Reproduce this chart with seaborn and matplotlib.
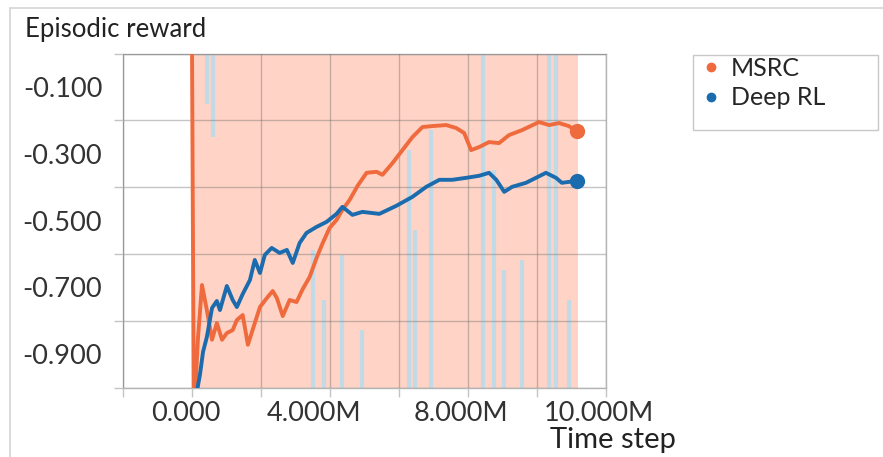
import matplotlib
matplotlib.use("Agg")
import matplotlib.pyplot as plt
from matplotlib.lines import Line2D
from matplotlib.patches import Rectangle
import seaborn as sns
import pandas as pd
import numpy as np

# smoothed curves (x in millions of time steps)
msrc_x = [0.0, 0.05, 0.09, 0.17, 0.29, 0.43, 0.58, 0.72, 0.87, 1.01, 1.18, 1.30, 1.47,
          1.62, 1.82, 1.97, 2.17, 2.34, 2.46, 2.63, 2.83, 3.03, 3.21, 3.41, 3.61, 3.79,
          3.99, 4.19, 4.36, 4.57, 4.80, 5.06, 5.35, 5.52, 5.81, 6.10, 6.39, 6.68, 6.97,
          7.37, 7.66, 7.89, 8.09, 8.32, 8.61, 8.90, 9.19, 9.57, 10.06, 10.35, 10.64,
          10.92, 11.16]
msrc_y = [0.02, -1.02, -1.02, -0.857, -0.693, -0.768, -0.857, -0.807, -0.857, -0.837,
          -0.828, -0.798, -0.783, -0.872, -0.807, -0.759, -0.732, -0.711, -0.732, -0.786,
          -0.738, -0.744, -0.705, -0.669, -0.612, -0.567, -0.522, -0.498, -0.468, -0.438,
          -0.396, -0.357, -0.354, -0.363, -0.328, -0.289, -0.250, -0.220, -0.217, -0.214,
          -0.223, -0.238, -0.289, -0.280, -0.265, -0.268, -0.244, -0.229, -0.205, -0.214,
          -0.208, -0.217, -0.232]

deeprl_x = [0.12, 0.14, 0.23, 0.32, 0.43, 0.58, 0.72, 0.81, 1.01, 1.18, 1.30, 1.47, 1.68,
            1.82, 1.97, 2.11, 2.31, 2.54, 2.75, 2.92, 3.12, 3.32, 3.61, 3.90, 4.19, 4.36,
            4.65, 4.94, 5.43, 5.92, 6.39, 6.79, 7.17, 7.54, 7.95, 8.32, 8.61, 8.82, 9.05,
            9.28, 9.68, 9.97, 10.26, 10.55, 10.72, 11.16]
deeprl_y = [-1.05, -1.013, -0.962, -0.893, -0.849, -0.762, -0.741, -0.768, -0.696, -0.738,
            -0.759, -0.720, -0.678, -0.618, -0.657, -0.603, -0.582, -0.597, -0.588, -0.627,
            -0.567, -0.537, -0.519, -0.504, -0.480, -0.459, -0.483, -0.474, -0.480, -0.456,
            -0.429, -0.399, -0.378, -0.378, -0.372, -0.366, -0.357, -0.378, -0.414, -0.399,
            -0.387, -0.372, -0.357, -0.372, -0.387, -0.381]

# extent of the faint raw MSRC data (fills the whole height)
raw_start = 0.0
raw_end = 11.2

# faint raw Deep RL streaks: x, lower y, upper y
streak_x = [0.43, 0.60, 3.50, 3.84, 4.36, 4.94, 6.30, 6.47, 6.94, 8.44, 8.76, 9.05,
            9.57, 10.35, 10.55, 10.92]
streak_lo = [-0.15, -0.25, -1.0, -1.0, -1.0, -1.0, -1.0, -1.0, -1.0, -1.0, -1.0, -1.0,
             -1.0, -1.0, -1.0, -1.0]
streak_hi = [0.0, 0.0, -0.588, -0.738, -0.603, -0.828, -0.289, -0.528, -0.229, 0.0,
             -0.348, -0.648, -0.618, 0.0, 0.0, -0.738]

series_names = ["MSRC", "Deep RL"]
x_tick_labels = ["0.000", "4.000M", "8.000M", "10.000M"]
y_tick_labels = ["-0.100", "-0.300", "-0.500", "-0.700", "-0.900"]

ORANGE = "#ef6a3c"
BLUE = "#1b6cae"

sns.set_theme(style="white")
plt.rcParams["font.family"] = ["Lato", "DejaVu Sans"]

df = pd.concat([
    pd.DataFrame({"step": msrc_x, "reward": msrc_y, "run": series_names[0]}),
    pd.DataFrame({"step": deeprl_x, "reward": deeprl_y, "run": series_names[1]}),
])

fig = plt.figure(figsize=(8.83, 4.57), dpi=100)
ax = fig.add_axes([123 / 883, 1 - 387.5 / 457, (606 - 123) / 883, (387.5 - 53.6) / 457])

# raw data shading
ax.axvspan(raw_start, raw_end, color="#ff7043", alpha=0.3, lw=0, zorder=0.1)
ax.vlines(streak_x, streak_lo, streak_hi, color="#b3dcef", lw=3, alpha=0.8, zorder=0.2)

sns.lineplot(data=df, x="step", y="reward", hue="run", palette=[ORANGE, BLUE],
             estimator=None, sort=False, lw=2.8, legend=False, ax=ax, zorder=3)
ax.plot(msrc_x[-1], msrc_y[-1], "o", color=ORANGE, ms=10, zorder=4)
ax.plot(deeprl_x[-1], deeprl_y[-1], "o", color=BLUE, ms=10, zorder=4)

ax.set_xlim(-2, 12)
ax.set_ylim(-1.0, 0.0)

# gridlines / tick marks every 2M and 0.1 (drawn over the shading, under the curves)
ax.set_axisbelow(False)
ax.set_xticks(np.arange(-2, 12.01, 2), minor=True)
ax.set_xticks([-0.17, 3.53, 7.80, 11.8])
ax.set_xticklabels(x_tick_labels)
ax.set_yticks(np.arange(-1.0, 0.001, 0.1), minor=True)
ax.set_yticks([-0.1, -0.3, -0.5, -0.7, -0.9])
ax.set_yticklabels(y_tick_labels)
ax.grid(which="minor", color="#6e6e6e", alpha=0.4, lw=1)
ax.grid(which="major", visible=False)
ax.tick_params(axis="x", which="major", length=0, pad=10, labelsize=19.5, labelcolor="#333333")
ax.tick_params(axis="y", which="major", length=0, pad=15, labelsize=19.5, labelcolor="#333333")
ax.tick_params(which="minor", length=6.5, width=1, color="#c4c4c4", bottom=True, left=True)
ax.set_xlabel("")
ax.set_ylabel("")
for s in ax.spines.values():
    s.set_color("#b4b4b4")
    s.set_linewidth(1)

fig.text(25 / 883, 1 - 37 / 457, "Episodic reward", fontsize=18.5, color="#222222", va="baseline")
fig.text(550 / 883, 1 - 448 / 457, "Time step", fontsize=21, color="#222222", va="baseline")

# legend box
fig.add_artist(Rectangle((693 / 883, 1 - 130 / 457), 185 / 883, 75 / 457,
                         transform=fig.transFigure, fill=False, edgecolor="#c8c8c8", lw=1))
handles = [Line2D([], [], ls="", marker="o", ms=6, color=c) for c in [ORANGE, BLUE]]
fig.legend(handles, series_names, loc="upper left", bbox_to_anchor=(701 / 883, 1 - 57 / 457),
           frameon=False, fontsize=18, handlelength=0.8, handletextpad=0.4,
           labelspacing=0.25, borderaxespad=0, borderpad=0)

# outer frame
fig.add_artist(Rectangle((10 / 883, -0.1), 1.2, 1.1 - 8 / 457, transform=fig.transFigure,
                         fill=False, edgecolor="#d4d4d4", lw=1.2))

fig.savefig("out.png", dpi=100)
